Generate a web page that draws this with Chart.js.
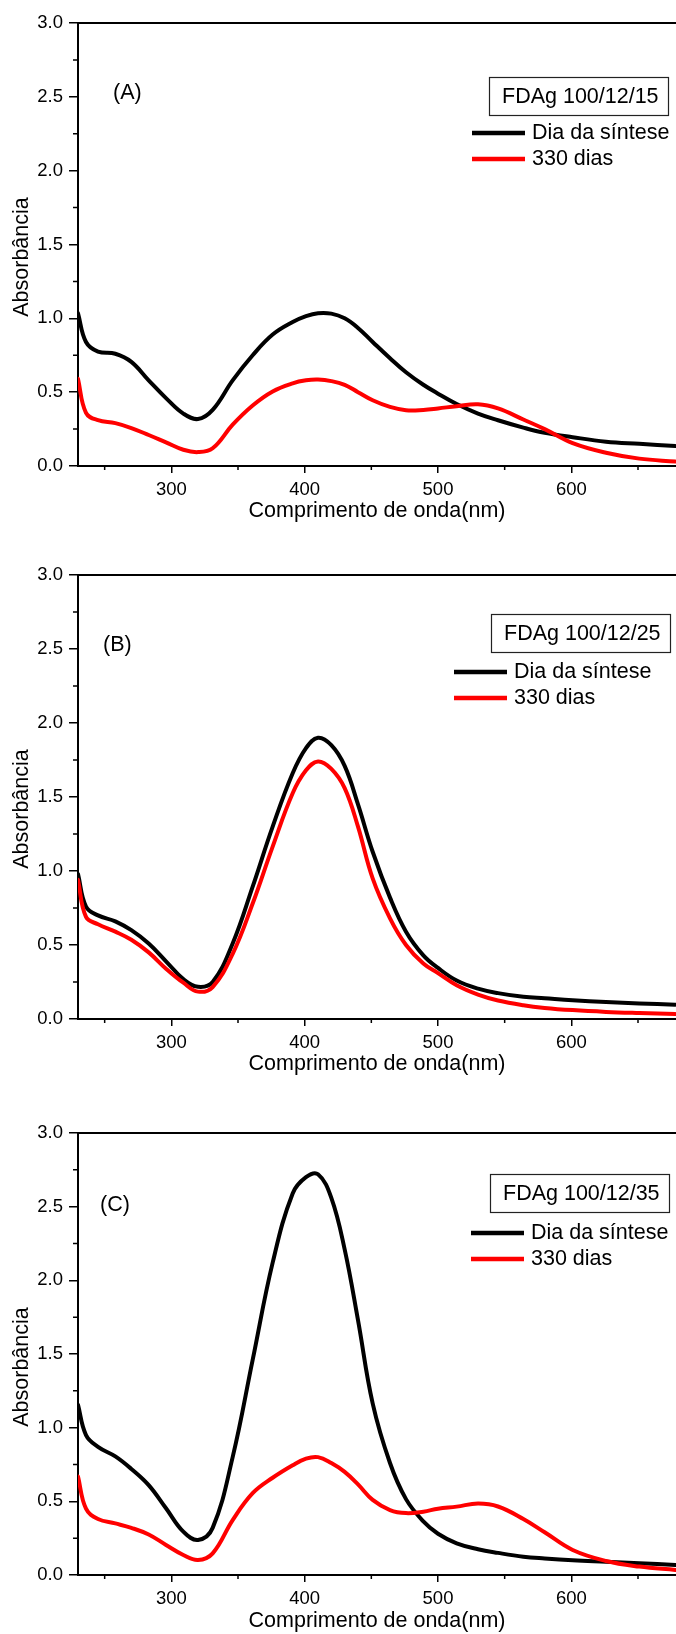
<!DOCTYPE html>
<html>
<head>
<meta charset="utf-8">
<script src="https://cdn.jsdelivr.net/npm/chart.js@4.4.1/dist/chart.umd.min.js"></script>
<style>
  body { margin: 0; background: #fff; width: 676px; height: 1634px; position: relative; overflow: hidden; }
  canvas { position: absolute; left: 0; }
</style>
</head>
<body>
<canvas id="chartA"></canvas>
<canvas id="chartB"></canvas>
<canvas id="chartC"></canvas>
<script>
const wavelengths = [230,236,245,258,270,283,296,309,320,331,346,361,376,391,401,410,420,430,440,451,464,476,489,500,514,530,545,564,580,601,626,651,678];

const synthA = [1.035,0.84,0.775,0.76,0.705,0.58,0.46,0.355,0.318,0.38,0.58,0.75,0.89,0.975,1.015,1.035,1.032,1.0,0.935,0.84,0.73,0.635,0.55,0.49,0.42,0.355,0.31,0.26,0.225,0.195,0.165,0.15,0.135];
const agedA  = [0.59,0.36,0.31,0.29,0.257,0.21,0.16,0.11,0.094,0.12,0.28,0.41,0.505,0.56,0.58,0.585,0.575,0.55,0.50,0.445,0.40,0.378,0.38,0.39,0.405,0.418,0.39,0.315,0.25,0.155,0.09,0.05,0.03];

const synthB = [0.98,0.76,0.70,0.66,0.60,0.51,0.39,0.27,0.218,0.25,0.51,0.894,1.30,1.66,1.83,1.90,1.85,1.71,1.45,1.13,0.82,0.59,0.43,0.345,0.26,0.205,0.175,0.15,0.14,0.127,0.115,0.105,0.097];
const agedB  = [0.94,0.69,0.64,0.59,0.535,0.45,0.34,0.245,0.185,0.216,0.44,0.78,1.165,1.525,1.68,1.74,1.69,1.56,1.30,0.95,0.68,0.50,0.375,0.31,0.228,0.165,0.125,0.093,0.075,0.06,0.048,0.04,0.033];

const synthC = [1.155,0.95,0.87,0.805,0.72,0.61,0.453,0.294,0.238,0.32,0.80,1.46,2.12,2.59,2.70,2.72,2.56,2.21,1.73,1.165,0.76,0.515,0.364,0.28,0.215,0.175,0.15,0.124,0.112,0.10,0.09,0.08,0.068];
const agedC  = [0.668,0.45,0.38,0.35,0.32,0.275,0.204,0.136,0.102,0.147,0.373,0.555,0.66,0.745,0.79,0.80,0.76,0.70,0.615,0.51,0.441,0.42,0.43,0.45,0.464,0.485,0.465,0.38,0.29,0.17,0.095,0.057,0.034];

const xMajorTicks = [300,400,500,600];
const xMinorTicks = [250,350,450,550,650];
const yMajorTicks = [0,0.5,1,1.5,2,2.5,3];
const yMinorTicks = [0.25,0.75,1.25,1.75,2.25,2.75];

const seriesLabels = ['Dia da síntese','330 dias'];
const panelTags = ['(A)','(B)','(C)'];
const sampleNames = ['FDAg 100/12/15','FDAg 100/12/25','FDAg 100/12/35'];

// Layout de cada painel (posições em px)
const panels = [
  { id:'chartA', top:0,    height:524, areaH:443, tagX:113, tagY:70, boxX:489, boxY:54, lineX:472, lineY:110, synth:synthA, aged:agedA },
  { id:'chartB', top:552,  height:525, areaH:444, tagX:103, tagY:70, boxX:491, boxY:39, lineX:454, lineY:97,  synth:synthB, aged:agedB },
  { id:'chartC', top:1110, height:524, areaH:442, tagX:100, tagY:72, boxX:490, boxY:41, lineX:471, lineY:100, synth:synthC, aged:agedC }
];

const FONT = "'Liberation Sans', Arial, sans-serif";
Chart.defaults.font.family = FONT;
Chart.defaults.color = '#000';

// Plugin: moldura superior, ticks menores, rótulos e legenda
const decorPlugin = {
  id: 'decor',
  afterDraw(chart, args, o) {
    const ctx = chart.ctx;
    const a = chart.chartArea;
    const xs = chart.scales.x, ys = chart.scales.y;
    ctx.save();
    ctx.strokeStyle = '#000';
    ctx.fillStyle = '#000';

    // linha superior
    ctx.lineWidth = 2;
    ctx.beginPath();
    ctx.moveTo(a.left, a.top);
    ctx.lineTo(a.right, a.top);
    ctx.stroke();

    // ticks menores
    ctx.lineWidth = 1.5;
    ctx.beginPath();
    xMinorTicks.forEach(v => {
      const px = xs.getPixelForValue(v);
      ctx.moveTo(px, a.bottom);
      ctx.lineTo(px, a.bottom + 4);
    });
    yMinorTicks.forEach(v => {
      const py = ys.getPixelForValue(v);
      ctx.moveTo(a.left - 5, py);
      ctx.lineTo(a.left, py);
    });
    ctx.stroke();

    ctx.font = '21.5px ' + FONT;
    ctx.textBaseline = 'middle';

    // título do eixo Y
    ctx.save();
    ctx.translate(22, a.top + 234);
    ctx.rotate(-Math.PI / 2);
    ctx.textAlign = 'center';
    ctx.fillText('Absorbância', 0, 0);
    ctx.restore();

    ctx.textAlign = 'left';
    ctx.fillText(o.tag, o.tagX, a.top + o.tagY);

    // caixa com nome da amostra
    ctx.lineWidth = 1.2;
    ctx.strokeStyle = '#222';
    ctx.strokeRect(o.boxX + 0.5, a.top + o.boxY + 0.5, 179, 38);
    ctx.fillText(o.sample, o.boxX + 13, a.top + o.boxY + 20);

    // legenda
    chart.data.datasets.forEach((ds, i) => {
      const y = a.top + o.lineY + i * 26;
      ctx.strokeStyle = ds.borderColor;
      ctx.lineWidth = 4.5;
      ctx.beginPath();
      ctx.moveTo(o.lineX, y);
      ctx.lineTo(o.lineX + 53, y);
      ctx.stroke();
      ctx.fillText(ds.label, o.lineX + 60, y);
    });
    ctx.restore();
  }
};

panels.forEach((p, idx) => {
  const canvas = document.getElementById(p.id);
  canvas.width = 676;
  canvas.height = p.height;
  canvas.style.top = p.top + 'px';
  const bottomH = p.height - 23 - p.areaH;

  new Chart(canvas.getContext('2d'), {
    type: 'line',
    data: {
      datasets: [
        { label: seriesLabels[0], data: wavelengths.map((w, i) => ({ x: w, y: p.synth[i] })),
          borderColor: '#000000', order: 1 },
        { label: seriesLabels[1], data: wavelengths.map((w, i) => ({ x: w, y: p.aged[i] })),
          borderColor: '#ff0000', order: 0 }
      ].map(d => Object.assign(d, { borderWidth: 4, pointRadius: 0, tension: 0.4, fill: false,
                                    borderJoinStyle: 'round', borderCapStyle: 'round' }))
    },
    options: {
      responsive: false,
      animation: false,
      devicePixelRatio: 1,
      layout: { padding: { top: 23, left: 0, right: 0, bottom: 0 } },
      plugins: {
        legend: { display: false },
        tooltip: { enabled: false },
        decor: { tag: panelTags[idx], sample: sampleNames[idx], tagX: p.tagX, tagY: p.tagY,
                 boxX: p.boxX, boxY: p.boxY, lineX: p.lineX, lineY: p.lineY }
      },
      scales: {
        x: {
          type: 'linear', min: 230, max: 678.5,
          afterBuildTicks: s => { s.ticks = xMajorTicks.map(v => ({ value: v })); },
          afterFit: s => { s.height = bottomH; },
          ticks: { font: { size: 18.5 }, color: '#000', padding: 6, maxRotation: 0 },
          grid: { drawOnChartArea: false, tickLength: 7, color: '#000', lineWidth: 1.5 },
          border: { color: '#000', width: 2 },
          title: { display: true, text: 'Comprimento de onda(nm)', font: { size: 21.5 }, color: '#000', padding: 0 }
        },
        y: {
          min: 0, max: 3,
          afterBuildTicks: s => { s.ticks = yMajorTicks.map(v => ({ value: v })); },
          afterFit: s => { s.width = 78; },
          ticks: { font: { size: 18.5 }, color: '#000', padding: 6, callback: v => v.toFixed(1) },
          grid: { drawOnChartArea: false, tickLength: 9, color: '#000', lineWidth: 1.5 },
          border: { color: '#000', width: 2 }
        }
      }
    },
    plugins: [decorPlugin]
  });
});
</script>
</body>
</html>
